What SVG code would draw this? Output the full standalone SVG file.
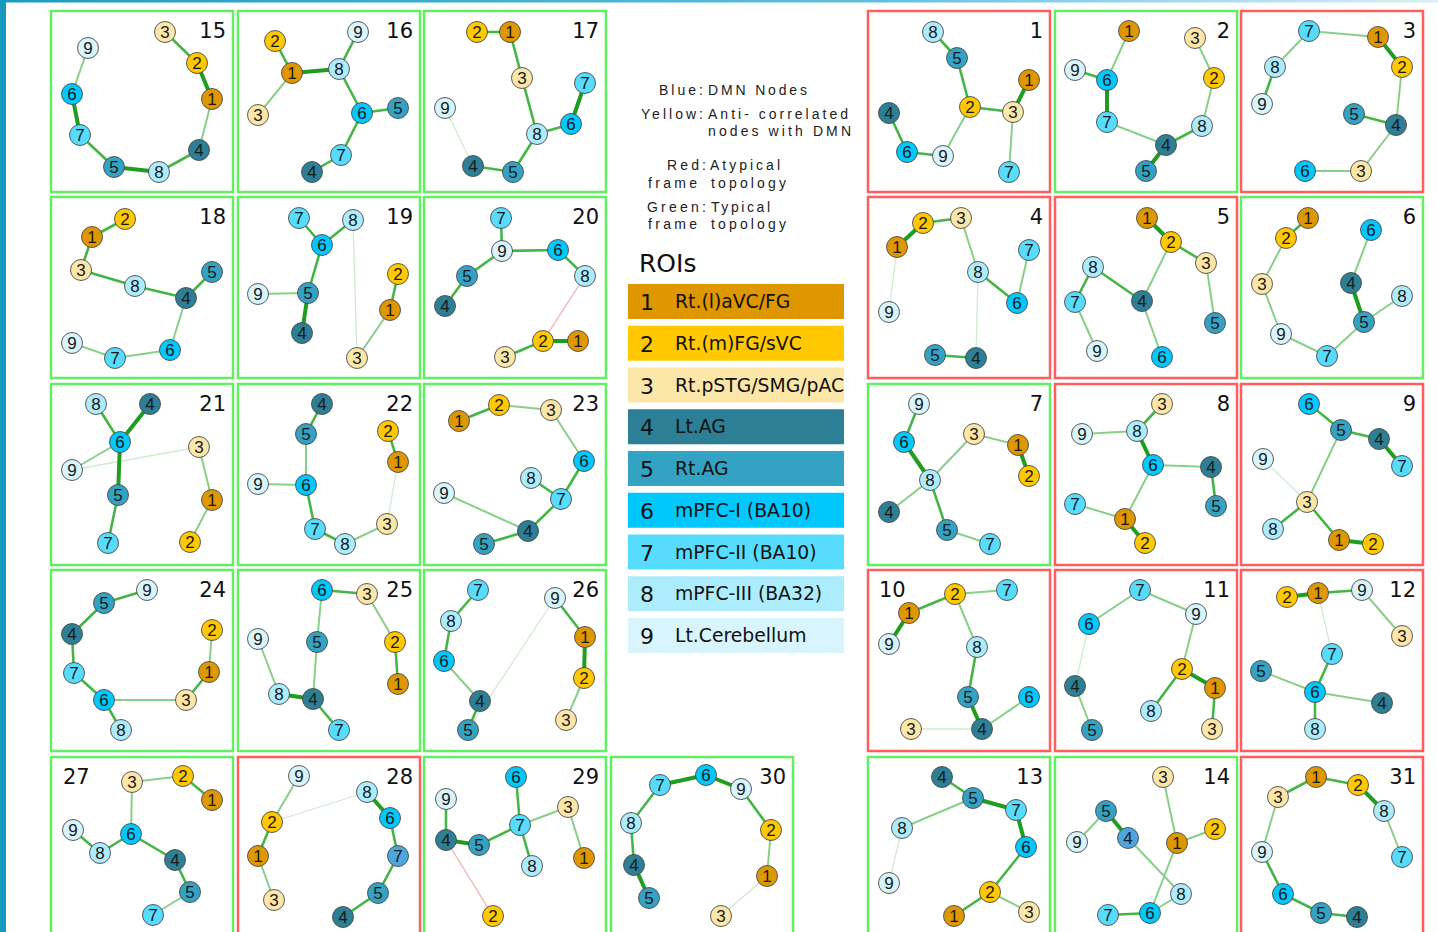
<svg xmlns="http://www.w3.org/2000/svg" width="1438" height="932" viewBox="0 0 1438 932">
<defs>
<linearGradient id="topg" x1="0" y1="0" x2="1" y2="0"><stop offset="0" stop-color="#1a9cc0"/><stop offset="0.6" stop-color="#5fbfda"/><stop offset="1" stop-color="#d8f0f6"/></linearGradient>
</defs>
<style>
.fr{fill:none;stroke-width:2.5}
.g{stroke:#62f062}
.r{stroke:#ff5e5e}
.pl{font-family:"DejaVu Sans",sans-serif;font-size:21px;fill:#111}
#connectors line{stroke-linecap:round}
.t{stroke:#1f9d1f;stroke-width:4}
.m{stroke:#45b545;stroke-width:2.6}
.l{stroke:#88d088;stroke-width:2}
.f{stroke:#cfeccf;stroke-width:1.3}
.x{stroke:#f2b0b0;stroke-width:1.3}
#nodes circle{stroke:#4a4a4a;stroke-width:0.9}
#nodes text{font-family:"Liberation Sans",Arial,sans-serif;font-size:17px;text-anchor:middle;fill:#1a1a1a}
.c1 circle,.b1{fill:#df9700}
.c2 circle,.b2{fill:#ffc800}
.c3 circle,.b3{fill:#fde7a8}
.c4 circle,.b4{fill:#2c7f95}
.c5 circle,.b5{fill:#34a2c2}
.c6 circle,.b6{fill:#00c8fc}
.c7 circle,.b7{fill:#58dcfd}
.c8 circle,.b8{fill:#acecfc}
.c9 circle,.b9{fill:#d8f5fd}
.cx circle{fill:#4ea6de}
.lg{font-family:"Liberation Sans",Arial,sans-serif;font-size:14px;fill:#222}
.ln{font-family:"DejaVu Sans",sans-serif;font-size:22px;fill:#111}
.lt{font-family:"DejaVu Sans",sans-serif;font-size:18.8px;fill:#111}
</style>
<rect x="0" y="0" width="1438" height="932" fill="#fff"/>
<rect x="0" y="0" width="1438" height="2.5" fill="url(#topg)"/>
<rect x="0" y="0" width="6" height="932" fill="#1699bd"/>

<g id="frames">
<rect class="fr g" x="51" y="11" width="182" height="181"/><text class="pl" x="226" y="38" text-anchor="end">15</text>
<rect class="fr g" x="238" y="11" width="182" height="181"/><text class="pl" x="413" y="38" text-anchor="end">16</text>
<rect class="fr g" x="424" y="11" width="182" height="181"/><text class="pl" x="599" y="38" text-anchor="end">17</text>
<rect class="fr r" x="868" y="11" width="182" height="181"/><text class="pl" x="1043" y="38" text-anchor="end">1</text>
<rect class="fr g" x="1055" y="11" width="182" height="181"/><text class="pl" x="1230" y="38" text-anchor="end">2</text>
<rect class="fr r" x="1241" y="11" width="182" height="181"/><text class="pl" x="1416" y="38" text-anchor="end">3</text>
<rect class="fr g" x="51" y="197" width="182" height="181"/><text class="pl" x="226" y="224" text-anchor="end">18</text>
<rect class="fr g" x="238" y="197" width="182" height="181"/><text class="pl" x="413" y="224" text-anchor="end">19</text>
<rect class="fr g" x="424" y="197" width="182" height="181"/><text class="pl" x="599" y="224" text-anchor="end">20</text>
<rect class="fr r" x="868" y="197" width="182" height="181"/><text class="pl" x="1043" y="224" text-anchor="end">4</text>
<rect class="fr r" x="1055" y="197" width="182" height="181"/><text class="pl" x="1230" y="224" text-anchor="end">5</text>
<rect class="fr g" x="1241" y="197" width="182" height="181"/><text class="pl" x="1416" y="224" text-anchor="end">6</text>
<rect class="fr g" x="51" y="384" width="182" height="181"/><text class="pl" x="226" y="411" text-anchor="end">21</text>
<rect class="fr g" x="238" y="384" width="182" height="181"/><text class="pl" x="413" y="411" text-anchor="end">22</text>
<rect class="fr g" x="424" y="384" width="182" height="181"/><text class="pl" x="599" y="411" text-anchor="end">23</text>
<rect class="fr g" x="868" y="384" width="182" height="181"/><text class="pl" x="1043" y="411" text-anchor="end">7</text>
<rect class="fr r" x="1055" y="384" width="182" height="181"/><text class="pl" x="1230" y="411" text-anchor="end">8</text>
<rect class="fr r" x="1241" y="384" width="182" height="181"/><text class="pl" x="1416" y="411" text-anchor="end">9</text>
<rect class="fr g" x="51" y="570" width="182" height="181"/><text class="pl" x="226" y="597" text-anchor="end">24</text>
<rect class="fr g" x="238" y="570" width="182" height="181"/><text class="pl" x="413" y="597" text-anchor="end">25</text>
<rect class="fr g" x="424" y="570" width="182" height="181"/><text class="pl" x="599" y="597" text-anchor="end">26</text>
<rect class="fr r" x="868" y="570" width="182" height="181"/><text class="pl" x="879" y="597">10</text>
<rect class="fr r" x="1055" y="570" width="182" height="181"/><text class="pl" x="1230" y="597" text-anchor="end">11</text>
<rect class="fr r" x="1241" y="570" width="182" height="181"/><text class="pl" x="1416" y="597" text-anchor="end">12</text>
<rect class="fr g" x="51" y="757" width="182" height="181"/><text class="pl" x="63" y="784">27</text>
<rect class="fr r" x="238" y="757" width="182" height="181"/><text class="pl" x="413" y="784" text-anchor="end">28</text>
<rect class="fr g" x="424" y="757" width="182" height="181"/><text class="pl" x="599" y="784" text-anchor="end">29</text>
<rect class="fr g" x="611" y="757" width="182" height="181"/><text class="pl" x="786" y="784" text-anchor="end">30</text>
<rect class="fr g" x="868" y="757" width="182" height="181"/><text class="pl" x="1043" y="784" text-anchor="end">13</text>
<rect class="fr g" x="1055" y="757" width="182" height="181"/><text class="pl" x="1230" y="784" text-anchor="end">14</text>
<rect class="fr r" x="1241" y="757" width="182" height="181"/><text class="pl" x="1416" y="784" text-anchor="end">31</text>
</g>

<g id="legend">
<text class="lg" x="659" y="95" textLength="44">Blue:</text>
<text class="lg" x="708" y="95" textLength="99">DMN Nodes</text>
<text class="lg" x="641" y="119" textLength="62">Yellow:</text>
<text class="lg" x="708" y="119" textLength="140">Anti- correlated</text>
<text class="lg" x="708" y="136" textLength="143">nodes with DMN</text>
<text class="lg" x="667" y="170" textLength="39">Red:</text>
<text class="lg" x="710" y="170" textLength="70">Atypical</text>
<text class="lg" x="648" y="188" textLength="49">frame</text>
<text class="lg" x="711" y="188" textLength="75">topology</text>
<text class="lg" x="647" y="212" textLength="59">Green:</text>
<text class="lg" x="711" y="212" textLength="59">Typical</text>
<text class="lg" x="648" y="229" textLength="49">frame</text>
<text class="lg" x="711" y="229" textLength="75">topology</text>
<text x="639" y="272" font-family="DejaVu Sans, sans-serif" font-size="25" fill="#111">ROIs</text>
<g id="roi1"><rect class="b1" x="628" y="284" width="216" height="35"/><text class="ln" x="640" y="310">1</text><text class="lt" x="675" y="308">Rt.(l)aVC/FG</text></g>
<g id="roi2"><rect class="b2" x="628" y="325.75" width="216" height="35"/><text class="ln" x="640" y="351.75">2</text><text class="lt" x="675" y="349.75">Rt.(m)FG/sVC</text></g>
<g id="roi3"><rect class="b3" x="628" y="367.5" width="216" height="35"/><text class="ln" x="640" y="393.5">3</text><text class="lt" x="675" y="391.5">Rt.pSTG/SMG/pAC</text></g>
<g id="roi4"><rect class="b4" x="628" y="409.25" width="216" height="35"/><text class="ln" x="640" y="435.25">4</text><text class="lt" x="675" y="433.25">Lt.AG</text></g>
<g id="roi5"><rect class="b5" x="628" y="451" width="216" height="35"/><text class="ln" x="640" y="477">5</text><text class="lt" x="675" y="475">Rt.AG</text></g>
<g id="roi6"><rect class="b6" x="628" y="492.75" width="216" height="35"/><text class="ln" x="640" y="518.75">6</text><text class="lt" x="675" y="516.75">mPFC-I (BA10)</text></g>
<g id="roi7"><rect class="b7" x="628" y="534.5" width="216" height="35"/><text class="ln" x="640" y="560.5">7</text><text class="lt" x="675" y="558.5">mPFC-II (BA10)</text></g>
<g id="roi8"><rect class="b8" x="628" y="576.25" width="216" height="35"/><text class="ln" x="640" y="602.25">8</text><text class="lt" x="675" y="600.25">mPFC-III (BA32)</text></g>
<g id="roi9"><rect class="b9" x="628" y="618" width="216" height="35"/><text class="ln" x="640" y="644">9</text><text class="lt" x="675" y="642">Lt.Cerebellum</text></g>
</g>

<g id="connectors">
<line class="m" x1="165" y1="32" x2="197" y2="63"/><line class="t" x1="197" y1="63" x2="212" y2="99"/><line class="l" x1="212" y1="99" x2="199" y2="150"/><line class="m" x1="199" y1="150" x2="159" y2="172"/><line class="t" x1="159" y1="172" x2="114" y2="167"/><line class="m" x1="114" y1="167" x2="80" y2="135"/><line class="t" x1="80" y1="135" x2="72" y2="94"/><line class="l" x1="72" y1="94" x2="88" y2="48"/>
<line class="m" x1="275" y1="41" x2="292" y2="73"/><line class="t" x1="292" y1="73" x2="339" y2="69"/><line class="l" x1="292" y1="73" x2="258" y2="115"/><line class="m" x1="358" y1="32" x2="339" y2="69"/><line class="m" x1="339" y1="69" x2="362" y2="113"/><line class="m" x1="362" y1="113" x2="398" y2="108"/><line class="m" x1="362" y1="113" x2="341" y2="155"/><line class="m" x1="341" y1="155" x2="312" y2="172"/>
<line class="m" x1="477" y1="32" x2="510" y2="32"/><line class="m" x1="510" y1="32" x2="522" y2="78"/><line class="m" x1="522" y1="78" x2="537" y2="134"/><line class="m" x1="537" y1="134" x2="571" y2="124"/><line class="t" x1="571" y1="124" x2="585" y2="83"/><line class="m" x1="537" y1="134" x2="513" y2="172"/><line class="m" x1="513" y1="172" x2="473" y2="166"/><line class="f" x1="445" y1="108" x2="473" y2="166"/>
<line class="m" x1="125" y1="219" x2="92" y2="237"/><line class="m" x1="92" y1="237" x2="81" y2="270"/><line class="m" x1="81" y1="270" x2="135" y2="286"/><line class="m" x1="135" y1="286" x2="186" y2="298"/><line class="m" x1="186" y1="298" x2="212" y2="272"/><line class="l" x1="186" y1="298" x2="170" y2="350"/><line class="l" x1="170" y1="350" x2="115" y2="358"/><line class="l" x1="115" y1="358" x2="72" y2="343"/>
<line class="m" x1="299" y1="218" x2="322" y2="245"/><line class="m" x1="322" y1="245" x2="353" y2="220"/><line class="m" x1="322" y1="245" x2="308" y2="293"/><line class="l" x1="308" y1="293" x2="258" y2="294"/><line class="t" x1="308" y1="293" x2="302" y2="333"/><line class="f" x1="353" y1="220" x2="357" y2="358"/><line class="m" x1="398" y1="274" x2="390" y2="310"/><line class="l" x1="390" y1="310" x2="357" y2="358"/>
<line class="m" x1="501" y1="218" x2="502" y2="251"/><line class="m" x1="502" y1="251" x2="558" y2="250"/><line class="m" x1="502" y1="251" x2="467" y2="276"/><line class="m" x1="467" y1="276" x2="445" y2="306"/><line class="m" x1="558" y1="250" x2="585" y2="276"/><line class="x" x1="585" y1="276" x2="543" y2="341"/><line class="t" x1="543" y1="341" x2="578" y2="341"/><line class="m" x1="543" y1="341" x2="505" y2="357"/>
<line class="m" x1="96" y1="404" x2="120" y2="442"/><line class="t" x1="150" y1="404" x2="120" y2="442"/><line class="l" x1="120" y1="442" x2="72" y2="470"/><line class="f" x1="72" y1="470" x2="199" y2="447"/><line class="t" x1="120" y1="442" x2="118" y2="495"/><line class="m" x1="118" y1="495" x2="108" y2="543"/><line class="l" x1="199" y1="447" x2="212" y2="500"/><line class="l" x1="212" y1="500" x2="190" y2="542"/>
<line class="m" x1="322" y1="404" x2="306" y2="434"/><line class="l" x1="306" y1="434" x2="306" y2="485"/><line class="l" x1="258" y1="484" x2="306" y2="485"/><line class="m" x1="306" y1="485" x2="315" y2="529"/><line class="m" x1="315" y1="529" x2="345" y2="544"/><line class="l" x1="345" y1="544" x2="387" y2="524"/><line class="f" x1="387" y1="524" x2="398" y2="462"/><line class="m" x1="398" y1="462" x2="388" y2="431"/>
<line class="m" x1="459" y1="421" x2="499" y2="405"/><line class="l" x1="499" y1="405" x2="551" y2="410"/><line class="l" x1="551" y1="410" x2="584" y2="461"/><line class="m" x1="584" y1="461" x2="561" y2="499"/><line class="m" x1="531" y1="478" x2="561" y2="499"/><line class="m" x1="561" y1="499" x2="528" y2="531"/><line class="l" x1="444" y1="493" x2="528" y2="531"/><line class="m" x1="528" y1="531" x2="484" y2="544"/>
<line class="m" x1="147" y1="590" x2="104" y2="603"/><line class="m" x1="104" y1="603" x2="72" y2="634"/><line class="m" x1="72" y1="634" x2="74" y2="673"/><line class="m" x1="74" y1="673" x2="104" y2="700"/><line class="m" x1="104" y1="700" x2="121" y2="730"/><line class="l" x1="104" y1="700" x2="186" y2="700"/><line class="m" x1="186" y1="700" x2="209" y2="672"/><line class="l" x1="209" y1="672" x2="212" y2="630"/>
<line class="m" x1="322" y1="590" x2="367" y2="594"/><line class="l" x1="322" y1="590" x2="317" y2="642"/><line class="l" x1="317" y1="642" x2="313" y2="699"/><line class="t" x1="279" y1="694" x2="313" y2="699"/><line class="m" x1="313" y1="699" x2="339" y2="730"/><line class="l" x1="258" y1="639" x2="279" y2="694"/><line class="l" x1="367" y1="594" x2="395" y2="642"/><line class="m" x1="395" y1="642" x2="398" y2="684"/>
<line class="m" x1="478" y1="590" x2="451" y2="621"/><line class="m" x1="451" y1="621" x2="444" y2="661"/><line class="l" x1="444" y1="661" x2="480" y2="701"/><line class="m" x1="480" y1="701" x2="468" y2="730"/><line class="f" x1="468" y1="730" x2="555" y2="598"/><line class="m" x1="555" y1="598" x2="585" y2="637"/><line class="t" x1="585" y1="637" x2="584" y2="678"/><line class="l" x1="584" y1="678" x2="566" y2="720"/>
<line class="l" x1="132" y1="782" x2="183" y2="776"/><line class="m" x1="183" y1="776" x2="212" y2="800"/><line class="l" x1="132" y1="782" x2="131" y2="834"/><line class="m" x1="73" y1="830" x2="100" y2="853"/><line class="m" x1="100" y1="853" x2="131" y2="834"/><line class="m" x1="131" y1="834" x2="175" y2="860"/><line class="m" x1="175" y1="860" x2="190" y2="892"/><line class="l" x1="190" y1="892" x2="153" y2="915"/>
<line class="l" x1="299" y1="776" x2="272" y2="822"/><line class="f" x1="272" y1="822" x2="367" y2="792"/><line class="t" x1="367" y1="792" x2="390" y2="818"/><line class="m" x1="390" y1="818" x2="398" y2="856"/><line class="m" x1="398" y1="856" x2="378" y2="893"/><line class="m" x1="378" y1="893" x2="343" y2="917"/><line class="m" x1="272" y1="822" x2="258" y2="856"/><line class="l" x1="258" y1="856" x2="274" y2="900"/>
<line class="m" x1="516" y1="777" x2="520" y2="825"/><line class="l" x1="520" y1="825" x2="568" y2="807"/><line class="l" x1="568" y1="807" x2="584" y2="858"/><line class="m" x1="520" y1="825" x2="479" y2="845"/><line class="m" x1="520" y1="825" x2="532" y2="866"/><line class="t" x1="479" y1="845" x2="446" y2="840"/><line class="m" x1="446" y1="840" x2="446" y2="799"/><line class="x" x1="446" y1="840" x2="493" y2="916"/>
<line class="t" x1="660" y1="785" x2="706" y2="775"/><line class="t" x1="706" y1="775" x2="741" y2="789"/><line class="m" x1="741" y1="789" x2="771" y2="830"/><line class="l" x1="771" y1="830" x2="767" y2="876"/><line class="f" x1="767" y1="876" x2="721" y2="916"/><line class="m" x1="660" y1="785" x2="631" y2="823"/><line class="m" x1="631" y1="823" x2="634" y2="865"/><line class="t" x1="634" y1="865" x2="649" y2="898"/>
<line class="m" x1="933" y1="32" x2="957" y2="58"/><line class="m" x1="957" y1="58" x2="970" y2="107"/><line class="m" x1="970" y1="107" x2="1013" y2="112"/><line class="t" x1="1013" y1="112" x2="1029" y2="80"/><line class="l" x1="1013" y1="112" x2="1009" y2="172"/><line class="l" x1="970" y1="107" x2="943" y2="156"/><line class="m" x1="943" y1="156" x2="907" y2="152"/><line class="m" x1="907" y1="152" x2="889" y2="113"/>
<line class="l" x1="1129" y1="31" x2="1107" y2="80"/><line class="m" x1="1075" y1="70" x2="1107" y2="80"/><line class="t" x1="1107" y1="80" x2="1107" y2="122"/><line class="l" x1="1107" y1="122" x2="1166" y2="145"/><line class="m" x1="1166" y1="145" x2="1202" y2="126"/><line class="l" x1="1202" y1="126" x2="1214" y2="78"/><line class="l" x1="1214" y1="78" x2="1195" y2="38"/><line class="t" x1="1166" y1="145" x2="1146" y2="171"/>
<line class="l" x1="1309" y1="31" x2="1378" y2="37"/><line class="t" x1="1378" y1="37" x2="1402" y2="67"/><line class="l" x1="1402" y1="67" x2="1396" y2="125"/><line class="m" x1="1354" y1="114" x2="1396" y2="125"/><line class="l" x1="1396" y1="125" x2="1361" y2="171"/><line class="l" x1="1361" y1="171" x2="1305" y2="171"/><line class="l" x1="1309" y1="31" x2="1275" y2="67"/><line class="m" x1="1275" y1="67" x2="1262" y2="104"/>
<line class="t" x1="897" y1="247" x2="923" y2="223"/><line class="m" x1="923" y1="223" x2="961" y2="218"/><line class="l" x1="961" y1="218" x2="978" y2="272"/><line class="m" x1="978" y1="272" x2="1017" y2="303"/><line class="l" x1="1017" y1="303" x2="1029" y2="250"/><line class="f" x1="978" y1="272" x2="976" y2="358"/><line class="f" x1="897" y1="247" x2="889" y2="312"/><line class="m" x1="935" y1="355" x2="976" y2="358"/>
<line class="t" x1="1147" y1="218" x2="1171" y2="242"/><line class="m" x1="1171" y1="242" x2="1206" y2="263"/><line class="l" x1="1171" y1="242" x2="1142" y2="301"/><line class="m" x1="1093" y1="267" x2="1142" y2="301"/><line class="m" x1="1093" y1="267" x2="1075" y2="302"/><line class="l" x1="1075" y1="302" x2="1097" y2="351"/><line class="l" x1="1142" y1="301" x2="1162" y2="357"/><line class="l" x1="1206" y1="263" x2="1215" y2="323"/>
<line class="m" x1="1308" y1="218" x2="1286" y2="238"/><line class="l" x1="1286" y1="238" x2="1262" y2="284"/><line class="l" x1="1262" y1="284" x2="1281" y2="334"/><line class="l" x1="1281" y1="334" x2="1327" y2="356"/><line class="l" x1="1327" y1="356" x2="1364" y2="322"/><line class="l" x1="1364" y1="322" x2="1402" y2="296"/><line class="t" x1="1364" y1="322" x2="1351" y2="283"/><line class="l" x1="1351" y1="283" x2="1371" y2="230"/>
<line class="m" x1="919" y1="404" x2="904" y2="442"/><line class="t" x1="904" y1="442" x2="930" y2="480"/><line class="l" x1="930" y1="480" x2="974" y2="434"/><line class="l" x1="974" y1="434" x2="1018" y2="445"/><line class="t" x1="1018" y1="445" x2="1029" y2="476"/><line class="l" x1="930" y1="480" x2="889" y2="512"/><line class="m" x1="930" y1="480" x2="947" y2="530"/><line class="l" x1="947" y1="530" x2="990" y2="544"/>
<line class="m" x1="1162" y1="404" x2="1137" y2="431"/><line class="l" x1="1082" y1="434" x2="1137" y2="431"/><line class="t" x1="1137" y1="431" x2="1153" y2="465"/><line class="l" x1="1153" y1="465" x2="1211" y2="467"/><line class="m" x1="1211" y1="467" x2="1216" y2="506"/><line class="l" x1="1153" y1="465" x2="1125" y2="519"/><line class="l" x1="1075" y1="504" x2="1125" y2="519"/><line class="t" x1="1125" y1="519" x2="1145" y2="543"/>
<line class="m" x1="1309" y1="404" x2="1341" y2="430"/><line class="m" x1="1341" y1="430" x2="1379" y2="439"/><line class="t" x1="1379" y1="439" x2="1402" y2="466"/><line class="l" x1="1341" y1="430" x2="1307" y2="502"/><line class="f" x1="1263" y1="459" x2="1307" y2="502"/><line class="m" x1="1307" y1="502" x2="1273" y2="529"/><line class="m" x1="1307" y1="502" x2="1339" y2="540"/><line class="t" x1="1339" y1="540" x2="1373" y2="544"/>
<line class="l" x1="955" y1="594" x2="1007" y2="590"/><line class="m" x1="955" y1="594" x2="909" y2="613"/><line class="t" x1="909" y1="613" x2="889" y2="644"/><line class="l" x1="955" y1="594" x2="977" y2="647"/><line class="m" x1="977" y1="647" x2="968" y2="697"/><line class="t" x1="968" y1="697" x2="982" y2="729"/><line class="l" x1="982" y1="729" x2="1029" y2="697"/><line class="f" x1="911" y1="729" x2="982" y2="729"/>
<line class="l" x1="1140" y1="590" x2="1089" y2="624"/><line class="l" x1="1140" y1="590" x2="1196" y2="614"/><line class="l" x1="1196" y1="614" x2="1182" y2="669"/><line class="t" x1="1182" y1="669" x2="1215" y2="688"/><line class="m" x1="1182" y1="669" x2="1151" y2="711"/><line class="m" x1="1215" y1="688" x2="1212" y2="729"/><line class="f" x1="1089" y1="624" x2="1075" y2="686"/><line class="l" x1="1075" y1="686" x2="1092" y2="730"/>
<line class="t" x1="1287" y1="597" x2="1318" y2="593"/><line class="m" x1="1318" y1="593" x2="1362" y2="590"/><line class="l" x1="1362" y1="590" x2="1402" y2="636"/><line class="f" x1="1318" y1="593" x2="1332" y2="654"/><line class="m" x1="1332" y1="654" x2="1315" y2="692"/><line class="l" x1="1315" y1="692" x2="1261" y2="671"/><line class="l" x1="1315" y1="692" x2="1382" y2="703"/><line class="m" x1="1315" y1="692" x2="1315" y2="729"/>
<line class="m" x1="942" y1="777" x2="973" y2="798"/><line class="t" x1="973" y1="798" x2="1016" y2="810"/><line class="l" x1="973" y1="798" x2="902" y2="828"/><line class="f" x1="902" y1="828" x2="889" y2="883"/><line class="t" x1="1016" y1="810" x2="1026" y2="847"/><line class="m" x1="1026" y1="847" x2="990" y2="892"/><line class="m" x1="990" y1="892" x2="954" y2="916"/><line class="l" x1="990" y1="892" x2="1029" y2="912"/>
<line class="l" x1="1163" y1="777" x2="1177" y2="843"/><line class="l" x1="1177" y1="843" x2="1215" y2="829"/><line class="l" x1="1106" y1="811" x2="1077" y2="842"/><line class="t" x1="1106" y1="811" x2="1128" y2="838"/><line class="l" x1="1128" y1="838" x2="1181" y2="894"/><line class="l" x1="1177" y1="843" x2="1150" y2="913"/><line class="l" x1="1181" y1="894" x2="1150" y2="913"/><line class="m" x1="1108" y1="915" x2="1150" y2="913"/>
<line class="m" x1="1278" y1="797" x2="1316" y2="777"/><line class="m" x1="1316" y1="777" x2="1358" y2="785"/><line class="t" x1="1358" y1="785" x2="1384" y2="811"/><line class="l" x1="1384" y1="811" x2="1402" y2="857"/><line class="l" x1="1278" y1="797" x2="1262" y2="852"/><line class="m" x1="1262" y1="852" x2="1283" y2="894"/><line class="m" x1="1283" y1="894" x2="1321" y2="913"/><line class="m" x1="1321" y1="913" x2="1357" y2="917"/>
</g>

<g id="nodes">
<g id="n15-1" class="c1"><circle cx="212" cy="99" r="10.5"/><text x="212" y="105">1</text></g>
<g id="n15-2" class="c2"><circle cx="197" cy="63" r="10.5"/><text x="197" y="69">2</text></g>
<g id="n15-3" class="c3"><circle cx="165" cy="32" r="10.5"/><text x="165" y="38">3</text></g>
<g id="n15-4" class="c4"><circle cx="199" cy="150" r="10.5"/><text x="199" y="156">4</text></g>
<g id="n15-5" class="c5"><circle cx="114" cy="167" r="10.5"/><text x="114" y="173">5</text></g>
<g id="n15-6" class="c6"><circle cx="72" cy="94" r="10.5"/><text x="72" y="100">6</text></g>
<g id="n15-7" class="c7"><circle cx="80" cy="135" r="10.5"/><text x="80" y="141">7</text></g>
<g id="n15-8" class="c8"><circle cx="159" cy="172" r="10.5"/><text x="159" y="178">8</text></g>
<g id="n15-9" class="c9"><circle cx="88" cy="48" r="10.5"/><text x="88" y="54">9</text></g>

<g id="n16-1" class="c1"><circle cx="292" cy="73" r="10.5"/><text x="292" y="79">1</text></g>
<g id="n16-2" class="c2"><circle cx="275" cy="41" r="10.5"/><text x="275" y="47">2</text></g>
<g id="n16-3" class="c3"><circle cx="258" cy="115" r="10.5"/><text x="258" y="121">3</text></g>
<g id="n16-4" class="c4"><circle cx="312" cy="172" r="10.5"/><text x="312" y="178">4</text></g>
<g id="n16-5" class="c5"><circle cx="398" cy="108" r="10.5"/><text x="398" y="114">5</text></g>
<g id="n16-6" class="c6"><circle cx="362" cy="113" r="10.5"/><text x="362" y="119">6</text></g>
<g id="n16-7" class="c7"><circle cx="341" cy="155" r="10.5"/><text x="341" y="161">7</text></g>
<g id="n16-8" class="c8"><circle cx="339" cy="69" r="10.5"/><text x="339" y="75">8</text></g>
<g id="n16-9" class="c9"><circle cx="358" cy="32" r="10.5"/><text x="358" y="38">9</text></g>

<g id="n17-1" class="c1"><circle cx="510" cy="32" r="10.5"/><text x="510" y="38">1</text></g>
<g id="n17-2" class="c2"><circle cx="477" cy="32" r="10.5"/><text x="477" y="38">2</text></g>
<g id="n17-3" class="c3"><circle cx="522" cy="78" r="10.5"/><text x="522" y="84">3</text></g>
<g id="n17-4" class="c4"><circle cx="473" cy="166" r="10.5"/><text x="473" y="172">4</text></g>
<g id="n17-5" class="c5"><circle cx="513" cy="172" r="10.5"/><text x="513" y="178">5</text></g>
<g id="n17-6" class="c6"><circle cx="571" cy="124" r="10.5"/><text x="571" y="130">6</text></g>
<g id="n17-7" class="c7"><circle cx="585" cy="83" r="10.5"/><text x="585" y="89">7</text></g>
<g id="n17-8" class="c8"><circle cx="537" cy="134" r="10.5"/><text x="537" y="140">8</text></g>
<g id="n17-9" class="c9"><circle cx="445" cy="108" r="10.5"/><text x="445" y="114">9</text></g>

<g id="n18-1" class="c1"><circle cx="92" cy="237" r="10.5"/><text x="92" y="243">1</text></g>
<g id="n18-2" class="c2"><circle cx="125" cy="219" r="10.5"/><text x="125" y="225">2</text></g>
<g id="n18-3" class="c3"><circle cx="81" cy="270" r="10.5"/><text x="81" y="276">3</text></g>
<g id="n18-4" class="c4"><circle cx="186" cy="298" r="10.5"/><text x="186" y="304">4</text></g>
<g id="n18-5" class="c5"><circle cx="212" cy="272" r="10.5"/><text x="212" y="278">5</text></g>
<g id="n18-6" class="c6"><circle cx="170" cy="350" r="10.5"/><text x="170" y="356">6</text></g>
<g id="n18-7" class="c7"><circle cx="115" cy="358" r="10.5"/><text x="115" y="364">7</text></g>
<g id="n18-8" class="c8"><circle cx="135" cy="286" r="10.5"/><text x="135" y="292">8</text></g>
<g id="n18-9" class="c9"><circle cx="72" cy="343" r="10.5"/><text x="72" y="349">9</text></g>

<g id="n19-1" class="c1"><circle cx="390" cy="310" r="10.5"/><text x="390" y="316">1</text></g>
<g id="n19-2" class="c2"><circle cx="398" cy="274" r="10.5"/><text x="398" y="280">2</text></g>
<g id="n19-3" class="c3"><circle cx="357" cy="358" r="10.5"/><text x="357" y="364">3</text></g>
<g id="n19-4" class="c4"><circle cx="302" cy="333" r="10.5"/><text x="302" y="339">4</text></g>
<g id="n19-5" class="c5"><circle cx="308" cy="293" r="10.5"/><text x="308" y="299">5</text></g>
<g id="n19-6" class="c6"><circle cx="322" cy="245" r="10.5"/><text x="322" y="251">6</text></g>
<g id="n19-7" class="c7"><circle cx="299" cy="218" r="10.5"/><text x="299" y="224">7</text></g>
<g id="n19-8" class="c8"><circle cx="353" cy="220" r="10.5"/><text x="353" y="226">8</text></g>
<g id="n19-9" class="c9"><circle cx="258" cy="294" r="10.5"/><text x="258" y="300">9</text></g>

<g id="n20-1" class="c1"><circle cx="578" cy="341" r="10.5"/><text x="578" y="347">1</text></g>
<g id="n20-2" class="c2"><circle cx="543" cy="341" r="10.5"/><text x="543" y="347">2</text></g>
<g id="n20-3" class="c3"><circle cx="505" cy="357" r="10.5"/><text x="505" y="363">3</text></g>
<g id="n20-4" class="c4"><circle cx="445" cy="306" r="10.5"/><text x="445" y="312">4</text></g>
<g id="n20-5" class="c5"><circle cx="467" cy="276" r="10.5"/><text x="467" y="282">5</text></g>
<g id="n20-6" class="c6"><circle cx="558" cy="250" r="10.5"/><text x="558" y="256">6</text></g>
<g id="n20-7" class="c7"><circle cx="501" cy="218" r="10.5"/><text x="501" y="224">7</text></g>
<g id="n20-8" class="c8"><circle cx="585" cy="276" r="10.5"/><text x="585" y="282">8</text></g>
<g id="n20-9" class="c9"><circle cx="502" cy="251" r="10.5"/><text x="502" y="257">9</text></g>

<g id="n21-1" class="c1"><circle cx="212" cy="500" r="10.5"/><text x="212" y="506">1</text></g>
<g id="n21-2" class="c2"><circle cx="190" cy="542" r="10.5"/><text x="190" y="548">2</text></g>
<g id="n21-3" class="c3"><circle cx="199" cy="447" r="10.5"/><text x="199" y="453">3</text></g>
<g id="n21-4" class="c4"><circle cx="150" cy="404" r="10.5"/><text x="150" y="410">4</text></g>
<g id="n21-5" class="c5"><circle cx="118" cy="495" r="10.5"/><text x="118" y="501">5</text></g>
<g id="n21-6" class="c6"><circle cx="120" cy="442" r="10.5"/><text x="120" y="448">6</text></g>
<g id="n21-7" class="c7"><circle cx="108" cy="543" r="10.5"/><text x="108" y="549">7</text></g>
<g id="n21-8" class="c8"><circle cx="96" cy="404" r="10.5"/><text x="96" y="410">8</text></g>
<g id="n21-9" class="c9"><circle cx="72" cy="470" r="10.5"/><text x="72" y="476">9</text></g>

<g id="n22-1" class="c1"><circle cx="398" cy="462" r="10.5"/><text x="398" y="468">1</text></g>
<g id="n22-2" class="c2"><circle cx="388" cy="431" r="10.5"/><text x="388" y="437">2</text></g>
<g id="n22-3" class="c3"><circle cx="387" cy="524" r="10.5"/><text x="387" y="530">3</text></g>
<g id="n22-4" class="c4"><circle cx="322" cy="404" r="10.5"/><text x="322" y="410">4</text></g>
<g id="n22-5" class="c5"><circle cx="306" cy="434" r="10.5"/><text x="306" y="440">5</text></g>
<g id="n22-6" class="c6"><circle cx="306" cy="485" r="10.5"/><text x="306" y="491">6</text></g>
<g id="n22-7" class="c7"><circle cx="315" cy="529" r="10.5"/><text x="315" y="535">7</text></g>
<g id="n22-8" class="c8"><circle cx="345" cy="544" r="10.5"/><text x="345" y="550">8</text></g>
<g id="n22-9" class="c9"><circle cx="258" cy="484" r="10.5"/><text x="258" y="490">9</text></g>

<g id="n23-1" class="c1"><circle cx="459" cy="421" r="10.5"/><text x="459" y="427">1</text></g>
<g id="n23-2" class="c2"><circle cx="499" cy="405" r="10.5"/><text x="499" y="411">2</text></g>
<g id="n23-3" class="c3"><circle cx="551" cy="410" r="10.5"/><text x="551" y="416">3</text></g>
<g id="n23-4" class="c4"><circle cx="528" cy="531" r="10.5"/><text x="528" y="537">4</text></g>
<g id="n23-5" class="c5"><circle cx="484" cy="544" r="10.5"/><text x="484" y="550">5</text></g>
<g id="n23-6" class="c6"><circle cx="584" cy="461" r="10.5"/><text x="584" y="467">6</text></g>
<g id="n23-7" class="c7"><circle cx="561" cy="499" r="10.5"/><text x="561" y="505">7</text></g>
<g id="n23-8" class="c8"><circle cx="531" cy="478" r="10.5"/><text x="531" y="484">8</text></g>
<g id="n23-9" class="c9"><circle cx="444" cy="493" r="10.5"/><text x="444" y="499">9</text></g>

<g id="n24-1" class="c1"><circle cx="209" cy="672" r="10.5"/><text x="209" y="678">1</text></g>
<g id="n24-2" class="c2"><circle cx="212" cy="630" r="10.5"/><text x="212" y="636">2</text></g>
<g id="n24-3" class="c3"><circle cx="186" cy="700" r="10.5"/><text x="186" y="706">3</text></g>
<g id="n24-4" class="c4"><circle cx="72" cy="634" r="10.5"/><text x="72" y="640">4</text></g>
<g id="n24-5" class="c5"><circle cx="104" cy="603" r="10.5"/><text x="104" y="609">5</text></g>
<g id="n24-6" class="c6"><circle cx="104" cy="700" r="10.5"/><text x="104" y="706">6</text></g>
<g id="n24-7" class="c7"><circle cx="74" cy="673" r="10.5"/><text x="74" y="679">7</text></g>
<g id="n24-8" class="c8"><circle cx="121" cy="730" r="10.5"/><text x="121" y="736">8</text></g>
<g id="n24-9" class="c9"><circle cx="147" cy="590" r="10.5"/><text x="147" y="596">9</text></g>

<g id="n25-1" class="c1"><circle cx="398" cy="684" r="10.5"/><text x="398" y="690">1</text></g>
<g id="n25-2" class="c2"><circle cx="395" cy="642" r="10.5"/><text x="395" y="648">2</text></g>
<g id="n25-3" class="c3"><circle cx="367" cy="594" r="10.5"/><text x="367" y="600">3</text></g>
<g id="n25-4" class="c4"><circle cx="313" cy="699" r="10.5"/><text x="313" y="705">4</text></g>
<g id="n25-5" class="c5"><circle cx="317" cy="642" r="10.5"/><text x="317" y="648">5</text></g>
<g id="n25-6" class="c6"><circle cx="322" cy="590" r="10.5"/><text x="322" y="596">6</text></g>
<g id="n25-7" class="c7"><circle cx="339" cy="730" r="10.5"/><text x="339" y="736">7</text></g>
<g id="n25-8" class="c8"><circle cx="279" cy="694" r="10.5"/><text x="279" y="700">8</text></g>
<g id="n25-9" class="c9"><circle cx="258" cy="639" r="10.5"/><text x="258" y="645">9</text></g>

<g id="n26-1" class="c1"><circle cx="585" cy="637" r="10.5"/><text x="585" y="643">1</text></g>
<g id="n26-2" class="c2"><circle cx="584" cy="678" r="10.5"/><text x="584" y="684">2</text></g>
<g id="n26-3" class="c3"><circle cx="566" cy="720" r="10.5"/><text x="566" y="726">3</text></g>
<g id="n26-4" class="c4"><circle cx="480" cy="701" r="10.5"/><text x="480" y="707">4</text></g>
<g id="n26-5" class="c5"><circle cx="468" cy="730" r="10.5"/><text x="468" y="736">5</text></g>
<g id="n26-6" class="c6"><circle cx="444" cy="661" r="10.5"/><text x="444" y="667">6</text></g>
<g id="n26-7" class="c7"><circle cx="478" cy="590" r="10.5"/><text x="478" y="596">7</text></g>
<g id="n26-8" class="c8"><circle cx="451" cy="621" r="10.5"/><text x="451" y="627">8</text></g>
<g id="n26-9" class="c9"><circle cx="555" cy="598" r="10.5"/><text x="555" y="604">9</text></g>

<g id="n27-1" class="c1"><circle cx="212" cy="800" r="10.5"/><text x="212" y="806">1</text></g>
<g id="n27-2" class="c2"><circle cx="183" cy="776" r="10.5"/><text x="183" y="782">2</text></g>
<g id="n27-3" class="c3"><circle cx="132" cy="782" r="10.5"/><text x="132" y="788">3</text></g>
<g id="n27-4" class="c4"><circle cx="175" cy="860" r="10.5"/><text x="175" y="866">4</text></g>
<g id="n27-5" class="c5"><circle cx="190" cy="892" r="10.5"/><text x="190" y="898">5</text></g>
<g id="n27-6" class="c6"><circle cx="131" cy="834" r="10.5"/><text x="131" y="840">6</text></g>
<g id="n27-7" class="c7"><circle cx="153" cy="915" r="10.5"/><text x="153" y="921">7</text></g>
<g id="n27-8" class="c8"><circle cx="100" cy="853" r="10.5"/><text x="100" y="859">8</text></g>
<g id="n27-9" class="c9"><circle cx="73" cy="830" r="10.5"/><text x="73" y="836">9</text></g>

<g id="n28-1" class="c1"><circle cx="258" cy="856" r="10.5"/><text x="258" y="862">1</text></g>
<g id="n28-2" class="c2"><circle cx="272" cy="822" r="10.5"/><text x="272" y="828">2</text></g>
<g id="n28-3" class="c3"><circle cx="274" cy="900" r="10.5"/><text x="274" y="906">3</text></g>
<g id="n28-4" class="c4"><circle cx="343" cy="917" r="10.5"/><text x="343" y="923">4</text></g>
<g id="n28-5" class="c5"><circle cx="378" cy="893" r="10.5"/><text x="378" y="899">5</text></g>
<g id="n28-6" class="c6"><circle cx="390" cy="818" r="10.5"/><text x="390" y="824">6</text></g>
<g id="n28-7" class="cx"><circle cx="398" cy="856" r="10.5"/><text x="398" y="862">7</text></g>
<g id="n28-8" class="c8"><circle cx="367" cy="792" r="10.5"/><text x="367" y="798">8</text></g>
<g id="n28-9" class="c9"><circle cx="299" cy="776" r="10.5"/><text x="299" y="782">9</text></g>

<g id="n29-1" class="c1"><circle cx="584" cy="858" r="10.5"/><text x="584" y="864">1</text></g>
<g id="n29-2" class="c2"><circle cx="493" cy="916" r="10.5"/><text x="493" y="922">2</text></g>
<g id="n29-3" class="c3"><circle cx="568" cy="807" r="10.5"/><text x="568" y="813">3</text></g>
<g id="n29-4" class="c4"><circle cx="446" cy="840" r="10.5"/><text x="446" y="846">4</text></g>
<g id="n29-5" class="c5"><circle cx="479" cy="845" r="10.5"/><text x="479" y="851">5</text></g>
<g id="n29-6" class="c6"><circle cx="516" cy="777" r="10.5"/><text x="516" y="783">6</text></g>
<g id="n29-7" class="c7"><circle cx="520" cy="825" r="10.5"/><text x="520" y="831">7</text></g>
<g id="n29-8" class="c8"><circle cx="532" cy="866" r="10.5"/><text x="532" y="872">8</text></g>
<g id="n29-9" class="c9"><circle cx="446" cy="799" r="10.5"/><text x="446" y="805">9</text></g>

<g id="n30-1" class="c1"><circle cx="767" cy="876" r="10.5"/><text x="767" y="882">1</text></g>
<g id="n30-2" class="c2"><circle cx="771" cy="830" r="10.5"/><text x="771" y="836">2</text></g>
<g id="n30-3" class="c3"><circle cx="721" cy="916" r="10.5"/><text x="721" y="922">3</text></g>
<g id="n30-4" class="c4"><circle cx="634" cy="865" r="10.5"/><text x="634" y="871">4</text></g>
<g id="n30-5" class="c5"><circle cx="649" cy="898" r="10.5"/><text x="649" y="904">5</text></g>
<g id="n30-6" class="c6"><circle cx="706" cy="775" r="10.5"/><text x="706" y="781">6</text></g>
<g id="n30-7" class="c7"><circle cx="660" cy="785" r="10.5"/><text x="660" y="791">7</text></g>
<g id="n30-8" class="c8"><circle cx="631" cy="823" r="10.5"/><text x="631" y="829">8</text></g>
<g id="n30-9" class="c9"><circle cx="741" cy="789" r="10.5"/><text x="741" y="795">9</text></g>

<g id="n1-1" class="c1"><circle cx="1029" cy="80" r="10.5"/><text x="1029" y="86">1</text></g>
<g id="n1-2" class="c2"><circle cx="970" cy="107" r="10.5"/><text x="970" y="113">2</text></g>
<g id="n1-3" class="c3"><circle cx="1013" cy="112" r="10.5"/><text x="1013" y="118">3</text></g>
<g id="n1-4" class="c4"><circle cx="889" cy="113" r="10.5"/><text x="889" y="119">4</text></g>
<g id="n1-5" class="c5"><circle cx="957" cy="58" r="10.5"/><text x="957" y="64">5</text></g>
<g id="n1-6" class="c6"><circle cx="907" cy="152" r="10.5"/><text x="907" y="158">6</text></g>
<g id="n1-7" class="c7"><circle cx="1009" cy="172" r="10.5"/><text x="1009" y="178">7</text></g>
<g id="n1-8" class="c8"><circle cx="933" cy="32" r="10.5"/><text x="933" y="38">8</text></g>
<g id="n1-9" class="c9"><circle cx="943" cy="156" r="10.5"/><text x="943" y="162">9</text></g>

<g id="n2-1" class="c1"><circle cx="1129" cy="31" r="10.5"/><text x="1129" y="37">1</text></g>
<g id="n2-2" class="c2"><circle cx="1214" cy="78" r="10.5"/><text x="1214" y="84">2</text></g>
<g id="n2-3" class="c3"><circle cx="1195" cy="38" r="10.5"/><text x="1195" y="44">3</text></g>
<g id="n2-4" class="c4"><circle cx="1166" cy="145" r="10.5"/><text x="1166" y="151">4</text></g>
<g id="n2-5" class="c5"><circle cx="1146" cy="171" r="10.5"/><text x="1146" y="177">5</text></g>
<g id="n2-6" class="c6"><circle cx="1107" cy="80" r="10.5"/><text x="1107" y="86">6</text></g>
<g id="n2-7" class="c7"><circle cx="1107" cy="122" r="10.5"/><text x="1107" y="128">7</text></g>
<g id="n2-8" class="c8"><circle cx="1202" cy="126" r="10.5"/><text x="1202" y="132">8</text></g>
<g id="n2-9" class="c9"><circle cx="1075" cy="70" r="10.5"/><text x="1075" y="76">9</text></g>

<g id="n3-1" class="c1"><circle cx="1378" cy="37" r="10.5"/><text x="1378" y="43">1</text></g>
<g id="n3-2" class="c2"><circle cx="1402" cy="67" r="10.5"/><text x="1402" y="73">2</text></g>
<g id="n3-3" class="c3"><circle cx="1361" cy="171" r="10.5"/><text x="1361" y="177">3</text></g>
<g id="n3-4" class="c4"><circle cx="1396" cy="125" r="10.5"/><text x="1396" y="131">4</text></g>
<g id="n3-5" class="c5"><circle cx="1354" cy="114" r="10.5"/><text x="1354" y="120">5</text></g>
<g id="n3-6" class="c6"><circle cx="1305" cy="171" r="10.5"/><text x="1305" y="177">6</text></g>
<g id="n3-7" class="c7"><circle cx="1309" cy="31" r="10.5"/><text x="1309" y="37">7</text></g>
<g id="n3-8" class="c8"><circle cx="1275" cy="67" r="10.5"/><text x="1275" y="73">8</text></g>
<g id="n3-9" class="c9"><circle cx="1262" cy="104" r="10.5"/><text x="1262" y="110">9</text></g>

<g id="n4-1" class="c1"><circle cx="897" cy="247" r="10.5"/><text x="897" y="253">1</text></g>
<g id="n4-2" class="c2"><circle cx="923" cy="223" r="10.5"/><text x="923" y="229">2</text></g>
<g id="n4-3" class="c3"><circle cx="961" cy="218" r="10.5"/><text x="961" y="224">3</text></g>
<g id="n4-4" class="c4"><circle cx="976" cy="358" r="10.5"/><text x="976" y="364">4</text></g>
<g id="n4-5" class="c5"><circle cx="935" cy="355" r="10.5"/><text x="935" y="361">5</text></g>
<g id="n4-6" class="c6"><circle cx="1017" cy="303" r="10.5"/><text x="1017" y="309">6</text></g>
<g id="n4-7" class="c7"><circle cx="1029" cy="250" r="10.5"/><text x="1029" y="256">7</text></g>
<g id="n4-8" class="c8"><circle cx="978" cy="272" r="10.5"/><text x="978" y="278">8</text></g>
<g id="n4-9" class="c9"><circle cx="889" cy="312" r="10.5"/><text x="889" y="318">9</text></g>

<g id="n5-1" class="c1"><circle cx="1147" cy="218" r="10.5"/><text x="1147" y="224">1</text></g>
<g id="n5-2" class="c2"><circle cx="1171" cy="242" r="10.5"/><text x="1171" y="248">2</text></g>
<g id="n5-3" class="c3"><circle cx="1206" cy="263" r="10.5"/><text x="1206" y="269">3</text></g>
<g id="n5-4" class="c4"><circle cx="1142" cy="301" r="10.5"/><text x="1142" y="307">4</text></g>
<g id="n5-5" class="c5"><circle cx="1215" cy="323" r="10.5"/><text x="1215" y="329">5</text></g>
<g id="n5-6" class="c6"><circle cx="1162" cy="357" r="10.5"/><text x="1162" y="363">6</text></g>
<g id="n5-7" class="c7"><circle cx="1075" cy="302" r="10.5"/><text x="1075" y="308">7</text></g>
<g id="n5-8" class="c8"><circle cx="1093" cy="267" r="10.5"/><text x="1093" y="273">8</text></g>
<g id="n5-9" class="c9"><circle cx="1097" cy="351" r="10.5"/><text x="1097" y="357">9</text></g>

<g id="n6-1" class="c1"><circle cx="1308" cy="218" r="10.5"/><text x="1308" y="224">1</text></g>
<g id="n6-2" class="c2"><circle cx="1286" cy="238" r="10.5"/><text x="1286" y="244">2</text></g>
<g id="n6-3" class="c3"><circle cx="1262" cy="284" r="10.5"/><text x="1262" y="290">3</text></g>
<g id="n6-4" class="c4"><circle cx="1351" cy="283" r="10.5"/><text x="1351" y="289">4</text></g>
<g id="n6-5" class="c5"><circle cx="1364" cy="322" r="10.5"/><text x="1364" y="328">5</text></g>
<g id="n6-6" class="c6"><circle cx="1371" cy="230" r="10.5"/><text x="1371" y="236">6</text></g>
<g id="n6-7" class="c7"><circle cx="1327" cy="356" r="10.5"/><text x="1327" y="362">7</text></g>
<g id="n6-8" class="c8"><circle cx="1402" cy="296" r="10.5"/><text x="1402" y="302">8</text></g>
<g id="n6-9" class="c9"><circle cx="1281" cy="334" r="10.5"/><text x="1281" y="340">9</text></g>

<g id="n7-1" class="c1"><circle cx="1018" cy="445" r="10.5"/><text x="1018" y="451">1</text></g>
<g id="n7-2" class="c2"><circle cx="1029" cy="476" r="10.5"/><text x="1029" y="482">2</text></g>
<g id="n7-3" class="c3"><circle cx="974" cy="434" r="10.5"/><text x="974" y="440">3</text></g>
<g id="n7-4" class="c4"><circle cx="889" cy="512" r="10.5"/><text x="889" y="518">4</text></g>
<g id="n7-5" class="c5"><circle cx="947" cy="530" r="10.5"/><text x="947" y="536">5</text></g>
<g id="n7-6" class="c6"><circle cx="904" cy="442" r="10.5"/><text x="904" y="448">6</text></g>
<g id="n7-7" class="c7"><circle cx="990" cy="544" r="10.5"/><text x="990" y="550">7</text></g>
<g id="n7-8" class="c8"><circle cx="930" cy="480" r="10.5"/><text x="930" y="486">8</text></g>
<g id="n7-9" class="c9"><circle cx="919" cy="404" r="10.5"/><text x="919" y="410">9</text></g>

<g id="n8-1" class="c1"><circle cx="1125" cy="519" r="10.5"/><text x="1125" y="525">1</text></g>
<g id="n8-2" class="c2"><circle cx="1145" cy="543" r="10.5"/><text x="1145" y="549">2</text></g>
<g id="n8-3" class="c3"><circle cx="1162" cy="404" r="10.5"/><text x="1162" y="410">3</text></g>
<g id="n8-4" class="c4"><circle cx="1211" cy="467" r="10.5"/><text x="1211" y="473">4</text></g>
<g id="n8-5" class="c5"><circle cx="1216" cy="506" r="10.5"/><text x="1216" y="512">5</text></g>
<g id="n8-6" class="c6"><circle cx="1153" cy="465" r="10.5"/><text x="1153" y="471">6</text></g>
<g id="n8-7" class="c7"><circle cx="1075" cy="504" r="10.5"/><text x="1075" y="510">7</text></g>
<g id="n8-8" class="c8"><circle cx="1137" cy="431" r="10.5"/><text x="1137" y="437">8</text></g>
<g id="n8-9" class="c9"><circle cx="1082" cy="434" r="10.5"/><text x="1082" y="440">9</text></g>

<g id="n9-1" class="c1"><circle cx="1339" cy="540" r="10.5"/><text x="1339" y="546">1</text></g>
<g id="n9-2" class="c2"><circle cx="1373" cy="544" r="10.5"/><text x="1373" y="550">2</text></g>
<g id="n9-3" class="c3"><circle cx="1307" cy="502" r="10.5"/><text x="1307" y="508">3</text></g>
<g id="n9-4" class="c4"><circle cx="1379" cy="439" r="10.5"/><text x="1379" y="445">4</text></g>
<g id="n9-5" class="c5"><circle cx="1341" cy="430" r="10.5"/><text x="1341" y="436">5</text></g>
<g id="n9-6" class="c6"><circle cx="1309" cy="404" r="10.5"/><text x="1309" y="410">6</text></g>
<g id="n9-7" class="c7"><circle cx="1402" cy="466" r="10.5"/><text x="1402" y="472">7</text></g>
<g id="n9-8" class="c8"><circle cx="1273" cy="529" r="10.5"/><text x="1273" y="535">8</text></g>
<g id="n9-9" class="c9"><circle cx="1263" cy="459" r="10.5"/><text x="1263" y="465">9</text></g>

<g id="n10-1" class="c1"><circle cx="909" cy="613" r="10.5"/><text x="909" y="619">1</text></g>
<g id="n10-2" class="c2"><circle cx="955" cy="594" r="10.5"/><text x="955" y="600">2</text></g>
<g id="n10-3" class="c3"><circle cx="911" cy="729" r="10.5"/><text x="911" y="735">3</text></g>
<g id="n10-4" class="c4"><circle cx="982" cy="729" r="10.5"/><text x="982" y="735">4</text></g>
<g id="n10-5" class="c5"><circle cx="968" cy="697" r="10.5"/><text x="968" y="703">5</text></g>
<g id="n10-6" class="c6"><circle cx="1029" cy="697" r="10.5"/><text x="1029" y="703">6</text></g>
<g id="n10-7" class="c7"><circle cx="1007" cy="590" r="10.5"/><text x="1007" y="596">7</text></g>
<g id="n10-8" class="c8"><circle cx="977" cy="647" r="10.5"/><text x="977" y="653">8</text></g>
<g id="n10-9" class="c9"><circle cx="889" cy="644" r="10.5"/><text x="889" y="650">9</text></g>

<g id="n11-1" class="c1"><circle cx="1215" cy="688" r="10.5"/><text x="1215" y="694">1</text></g>
<g id="n11-2" class="c2"><circle cx="1182" cy="669" r="10.5"/><text x="1182" y="675">2</text></g>
<g id="n11-3" class="c3"><circle cx="1212" cy="729" r="10.5"/><text x="1212" y="735">3</text></g>
<g id="n11-4" class="c4"><circle cx="1075" cy="686" r="10.5"/><text x="1075" y="692">4</text></g>
<g id="n11-5" class="c5"><circle cx="1092" cy="730" r="10.5"/><text x="1092" y="736">5</text></g>
<g id="n11-6" class="c6"><circle cx="1089" cy="624" r="10.5"/><text x="1089" y="630">6</text></g>
<g id="n11-7" class="c7"><circle cx="1140" cy="590" r="10.5"/><text x="1140" y="596">7</text></g>
<g id="n11-8" class="c8"><circle cx="1151" cy="711" r="10.5"/><text x="1151" y="717">8</text></g>
<g id="n11-9" class="c9"><circle cx="1196" cy="614" r="10.5"/><text x="1196" y="620">9</text></g>

<g id="n12-1" class="c1"><circle cx="1318" cy="593" r="10.5"/><text x="1318" y="599">1</text></g>
<g id="n12-2" class="c2"><circle cx="1287" cy="597" r="10.5"/><text x="1287" y="603">2</text></g>
<g id="n12-3" class="c3"><circle cx="1402" cy="636" r="10.5"/><text x="1402" y="642">3</text></g>
<g id="n12-4" class="c4"><circle cx="1382" cy="703" r="10.5"/><text x="1382" y="709">4</text></g>
<g id="n12-5" class="c5"><circle cx="1261" cy="671" r="10.5"/><text x="1261" y="677">5</text></g>
<g id="n12-6" class="c6"><circle cx="1315" cy="692" r="10.5"/><text x="1315" y="698">6</text></g>
<g id="n12-7" class="c7"><circle cx="1332" cy="654" r="10.5"/><text x="1332" y="660">7</text></g>
<g id="n12-8" class="c8"><circle cx="1315" cy="729" r="10.5"/><text x="1315" y="735">8</text></g>
<g id="n12-9" class="c9"><circle cx="1362" cy="590" r="10.5"/><text x="1362" y="596">9</text></g>

<g id="n13-1" class="c1"><circle cx="954" cy="916" r="10.5"/><text x="954" y="922">1</text></g>
<g id="n13-2" class="c2"><circle cx="990" cy="892" r="10.5"/><text x="990" y="898">2</text></g>
<g id="n13-3" class="c3"><circle cx="1029" cy="912" r="10.5"/><text x="1029" y="918">3</text></g>
<g id="n13-4" class="c4"><circle cx="942" cy="777" r="10.5"/><text x="942" y="783">4</text></g>
<g id="n13-5" class="c5"><circle cx="973" cy="798" r="10.5"/><text x="973" y="804">5</text></g>
<g id="n13-6" class="c6"><circle cx="1026" cy="847" r="10.5"/><text x="1026" y="853">6</text></g>
<g id="n13-7" class="c7"><circle cx="1016" cy="810" r="10.5"/><text x="1016" y="816">7</text></g>
<g id="n13-8" class="c8"><circle cx="902" cy="828" r="10.5"/><text x="902" y="834">8</text></g>
<g id="n13-9" class="c9"><circle cx="889" cy="883" r="10.5"/><text x="889" y="889">9</text></g>

<g id="n14-1" class="c1"><circle cx="1177" cy="843" r="10.5"/><text x="1177" y="849">1</text></g>
<g id="n14-2" class="c2"><circle cx="1215" cy="829" r="10.5"/><text x="1215" y="835">2</text></g>
<g id="n14-3" class="c3"><circle cx="1163" cy="777" r="10.5"/><text x="1163" y="783">3</text></g>
<g id="n14-4" class="cx"><circle cx="1128" cy="838" r="10.5"/><text x="1128" y="844">4</text></g>
<g id="n14-5" class="c5"><circle cx="1106" cy="811" r="10.5"/><text x="1106" y="817">5</text></g>
<g id="n14-6" class="c6"><circle cx="1150" cy="913" r="10.5"/><text x="1150" y="919">6</text></g>
<g id="n14-7" class="c7"><circle cx="1108" cy="915" r="10.5"/><text x="1108" y="921">7</text></g>
<g id="n14-8" class="c8"><circle cx="1181" cy="894" r="10.5"/><text x="1181" y="900">8</text></g>
<g id="n14-9" class="c9"><circle cx="1077" cy="842" r="10.5"/><text x="1077" y="848">9</text></g>

<g id="n31-1" class="c1"><circle cx="1316" cy="777" r="10.5"/><text x="1316" y="783">1</text></g>
<g id="n31-2" class="c2"><circle cx="1358" cy="785" r="10.5"/><text x="1358" y="791">2</text></g>
<g id="n31-3" class="c3"><circle cx="1278" cy="797" r="10.5"/><text x="1278" y="803">3</text></g>
<g id="n31-4" class="c4"><circle cx="1357" cy="917" r="10.5"/><text x="1357" y="923">4</text></g>
<g id="n31-5" class="c5"><circle cx="1321" cy="913" r="10.5"/><text x="1321" y="919">5</text></g>
<g id="n31-6" class="c6"><circle cx="1283" cy="894" r="10.5"/><text x="1283" y="900">6</text></g>
<g id="n31-7" class="c7"><circle cx="1402" cy="857" r="10.5"/><text x="1402" y="863">7</text></g>
<g id="n31-8" class="c8"><circle cx="1384" cy="811" r="10.5"/><text x="1384" y="817">8</text></g>
<g id="n31-9" class="c9"><circle cx="1262" cy="852" r="10.5"/><text x="1262" y="858">9</text></g>
</g>
</svg>
